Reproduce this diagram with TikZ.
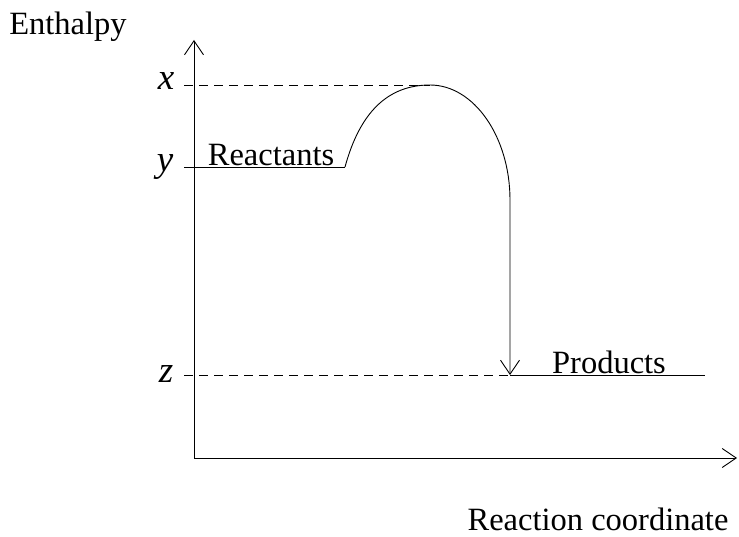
\documentclass[tikz,border=0pt]{standalone}
\usepackage{fontspec}
\setmainfont{Liberation Serif}
\usetikzlibrary{positioning,arrows.meta}

\begin{document}
\begin{tikzpicture}[
  x=1pt, y=-1pt,
  font=\fontsize{32.5}{38}\selectfont,
  >={Straight Barb[length=14pt,width=19pt]},
  axisline/.style={->, draw=black, line width=0.9pt},
  levelline/.style={draw=black, line width=0.9pt},
  guideline/.style={draw=black, line width=0.9pt, dash pattern=on 9pt off 6pt},
  lbl/.style={inner sep=0pt},
  symlbl/.style={inner sep=0pt, font=\fontsize{37}{42}\selectfont\itshape}
]
  \useasboundingbox (0,0) rectangle (739,537);
  % axes
  \coordinate (orig) at (194,458);
  \coordinate (ytop) at (194,40);
  \coordinate (xend) at (737,458);
  \draw[axisline] (orig) -- (ytop);
  \draw[axisline] (orig) -- (xend);
  \node[lbl] (ylab) at (68,27) {Enthalpy};
  \node[lbl] (xlab) at (598,519) {Reaction coordinate};
  % levels
  \coordinate (xtick) at (184,85);
  \coordinate (peak) at (430,85);
  \coordinate (ytick) at (184,167);
  \coordinate (rend) at (345,167);
  \coordinate (ztick) at (184,375);
  \coordinate (pstart) at (510,375);
  \coordinate (pend) at (705,375);
  \coordinate (drop) at (510,200);
  \node[symlbl] (xsym) at (166,81) {x};
  \node[symlbl] (ysym) at (165,167) {y};
  \node[symlbl] (zsym) at (166,374) {z};
  \draw[guideline] (xtick) -- (peak);
  \draw[guideline] (ztick) -- (pstart);
  \draw[levelline] (ytick) -- (rend);
  \draw[levelline] (pstart) -- (pend);
  \node[lbl] (react) at (271,155) {Reactants};
  \node[lbl] (prod) at (609,362) {Products};
  % reaction path
  \draw[levelline, ->] (rend) .. controls (360,112) and (388,85) .. (peak)
    .. controls (474,85) and (510,137) .. (drop) -- (pstart);
\end{tikzpicture}
\end{document}
